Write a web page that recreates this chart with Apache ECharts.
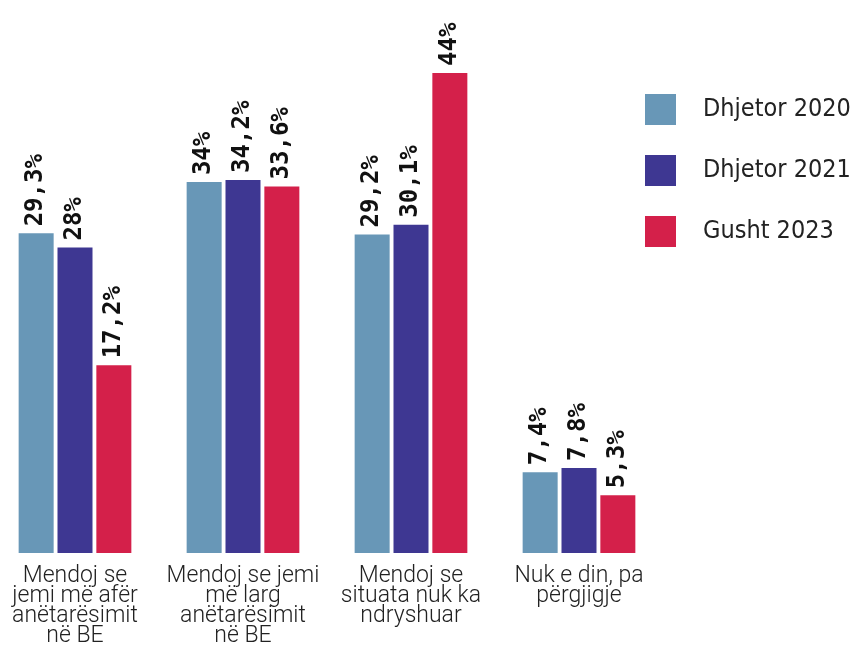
<!DOCTYPE html>
<html>
<head>
<meta charset="utf-8">
<script src="https://cdn.jsdelivr.net/npm/echarts@6/dist/echarts.min.js"></script>
<style>
html,body{margin:0;padding:0;background:#fff;}
#c{width:854px;height:645px;}
</style>
</head>
<body>
<div id="c"></div>
<script>
const categories = [
  "Mendoj se\njemi më afër\nanëtarësimit\nnë BE",
  "Mendoj se jemi\nmë larg\nanëtarësimit\nnë BE",
  "Mendoj se\nsituata nuk ka\nndryshuar",
  "Nuk e din, pa\npërgjigje"
];
const seriesNames = ["Dhjetor 2020", "Dhjetor 2021", "Gusht 2023"];
const dhjetor2020 = [29.3, 34, 29.2, 7.4];
const dhjetor2021 = [28, 34.2, 30.1, 7.8];
const gusht2023 = [17.2, 33.6, 44, 5.3];
const colors = ["#6897b7", "#3e3792", "#d4204a"];

const chart = echarts.init(document.getElementById('c'), null, {renderer: 'canvas'});
const labelFont = "'DejaVu Sans Mono', monospace";
const legendFont = "'DejaVu Sans Condensed', Roboto, sans-serif";

function fmt(v) {
  return String(v).replace('.', ',') + '%';
}

const dataSets = [dhjetor2020, dhjetor2021, gusht2023];
const series = dataSets.map((d, i) => ({
  name: seriesNames[i],
  type: 'bar',
  data: d,
  barWidth: 35,
  barGap: '11%',
  itemStyle: {color: colors[i]},
  label: {
    show: true,
    position: 'top',
    rotate: 90,
    align: 'left',
    verticalAlign: 'middle',
    distance: 7,
    fontFamily: labelFont,
    fontWeight: 'bold',
    fontSize: 24,
    color: '#111',
    formatter: p => fmt(p.value)
  }
}));

chart.setOption({
  animation: false,
  backgroundColor: '#fff',
  grid: {left: -9, width: 672, top: 73, bottom: 92, containLabel: false, outerBoundsMode: 'none'},
  legend: {
    orient: 'vertical',
    left: 640,
    top: 89,
    itemWidth: 31,
    itemHeight: 31,
    itemGap: 30,
    icon: 'rect',
    textStyle: {fontFamily: legendFont, fontSize: 25, color: '#222', padding: [0, 0, 0, 22]},
    data: seriesNames
  },
  xAxis: {
    type: 'category',
    data: categories,
    axisLine: {show: false},
    axisTick: {show: false},
    axisLabel: {
      interval: 0,
      margin: 13,
      fontFamily: "Roboto, sans-serif",
      fontWeight: 300,
      fontSize: 23,
      lineHeight: 20,
      color: '#222',
      verticalAlign: 'top'
    }
  },
  yAxis: {
    type: 'value',
    min: 0,
    max: 44,
    show: false,
    splitLine: {show: false}
  },
  series: series
});
</script>
</body>
</html>
